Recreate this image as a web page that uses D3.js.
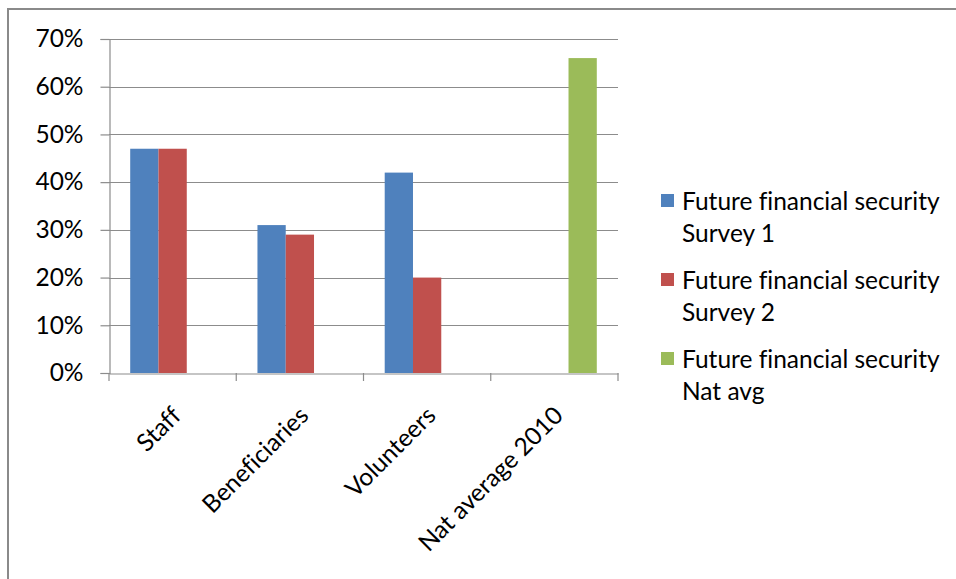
<!DOCTYPE html>
<html>
<head>
<meta charset="utf-8">
<script src="https://cdn.jsdelivr.net/npm/d3@7"></script>
<style>
  body { margin: 0; background: #fff; }
  svg text { font-family: Lato, "Open Sans", sans-serif; fill: #000; font-variant-ligatures: none; }
</style>
</head>
<body>
<div id="chart"></div>
<script>
// categories and series (values in %)
var categories = ["Staff", "Beneficiaries", "Volunteers", "Nat average 2010"];
var seriesNames = [
    ["Future financial security", "Survey 1"],
    ["Future financial security", "Survey 2"],
    ["Future financial security", "Nat avg"]
];
var survey1 = [47, 31, 42, null];
var survey2 = [47, 29, 20, null];
var natAvg = [null, null, null, 66];
var yTicks = [0, 10, 20, 30, 40, 50, 60, 70];

var colors = ["#4f81bd", "#c0504d", "#9bbb59"];
var allSeries = [survey1, survey2, natAvg];

var W = 956, H = 579;
var plot = {left: 109, right: 618, top: 39, bottom: 373};
var fontSize = "24.5px";

var svg = d3.select("#chart").append("svg")
    .attr("width", W)
    .attr("height", H);

// outer frame (only top and left visible)
svg.append("line").attr("x1", 8).attr("x2", W).attr("y1", 9).attr("y2", 9)
    .attr("stroke", "#8a8a8a").attr("stroke-width", 2);
svg.append("line").attr("x1", 8).attr("x2", 8).attr("y1", 8).attr("y2", H)
    .attr("stroke", "#8a8a8a").attr("stroke-width", 2);

var x = d3.scaleBand()
    .domain(categories)
    .range([plot.left, plot.right])
    .paddingInner(0).paddingOuter(0);

// 3 slots per group + gap width 150%
var slot = x.bandwidth() / 4.5;

var y = d3.scaleLinear()
    .domain([0, 70])
    .range([plot.bottom, plot.top]);

// gridlines
svg.append("g").selectAll("line")
    .data(yTicks.filter(function(d) { return d > 0; }))
    .enter().append("line")
    .attr("x1", plot.left).attr("x2", plot.right)
    .attr("y1", function(d) { return Math.round(y(d)) + 0.5; })
    .attr("y2", function(d) { return Math.round(y(d)) + 0.5; })
    .attr("stroke", "#8c8c8c").attr("stroke-width", 1.2);

// y axis
var yAxis = svg.append("g")
    .attr("transform", "translate(" + (plot.left + 0.5) + ",0)")
    .call(d3.axisLeft(y).tickValues(yTicks).tickSize(9).tickPadding(17)
        .tickFormat(function(d) { return d + "%"; }));
yAxis.select(".domain").attr("stroke", "#8c8c8c").attr("stroke-width", 1.2);
yAxis.selectAll(".tick line").attr("stroke", "#8c8c8c").attr("stroke-width", 1.2);
yAxis.selectAll(".tick text")
    .style("font-size", fontSize)
    .style("font-family", "Lato, 'Open Sans', sans-serif")
    .attr("fill", "#000");

// bars
allSeries.forEach(function(vals, si) {
    svg.append("g").selectAll("rect")
        .data(vals.map(function(v, i) { return {cat: categories[i], v: v}; })
            .filter(function(d) { return d.v != null; }))
        .enter().append("rect")
        .attr("x", function(d) { return x(d.cat) + slot * 0.75 + si * slot; })
        .attr("width", slot)
        .attr("y", function(d) { return y(d.v); })
        .attr("height", function(d) { return y(0) - y(d.v); })
        .attr("fill", colors[si]);
});

// x axis
var xAxis = svg.append("g")
    .attr("transform", "translate(0," + (plot.bottom + 0.5) + ")")
    .call(d3.axisBottom(x).tickSize(0).tickFormat(""));
xAxis.select(".domain").attr("stroke", "#8c8c8c").attr("stroke-width", 1.2);

// category boundary ticks
svg.append("g").selectAll("line")
    .data(d3.range(categories.length + 1))
    .enter().append("line")
    .attr("x1", function(i) { return plot.left + i * x.bandwidth(); })
    .attr("x2", function(i) { return plot.left + i * x.bandwidth(); })
    .attr("y1", plot.bottom).attr("y2", plot.bottom + 8)
    .attr("stroke", "#8c8c8c").attr("stroke-width", 1.2);

// rotated category labels
svg.append("g").selectAll("text")
    .data(categories)
    .enter().append("text")
    .attr("transform", function(d) {
        return "translate(" + (x(d) + x.bandwidth() / 2 + 4) + "," + (plot.bottom + 38) + ") rotate(-45)";
    })
    .attr("text-anchor", "end")
    .attr("dy", "0.35em")
    .style("font-size", fontSize)
    .text(function(d) { return d; });

// legend
var legend = svg.append("g");
seriesNames.forEach(function(lines, i) {
    var top = 201 + i * 79;
    legend.append("rect")
        .attr("x", 661).attr("y", top - 7)
        .attr("width", 13).attr("height", 13)
        .attr("fill", colors[i]);
    lines.forEach(function(t, j) {
        legend.append("text")
            .attr("x", 682)
            .attr("y", top + j * 32)
            .attr("dy", "0.35em")
            .style("font-size", fontSize)
            .text(t);
    });
});
</script>
</body>
</html>
